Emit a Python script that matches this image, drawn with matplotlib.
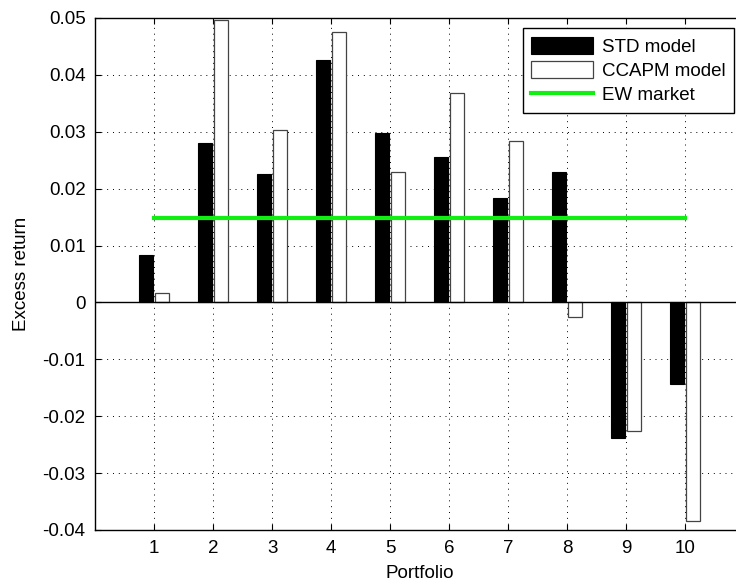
import numpy as np
import matplotlib.pyplot as plt

plt.rcParams["font.family"] = ["Liberation Sans", "DejaVu Sans"]

portfolios = np.arange(1, 11)
std_model = [0.0084, 0.0281, 0.0225, 0.0426, 0.0298, 0.0256, 0.0183, 0.0230, -0.0238, -0.0143]
ccapm_model = [0.0016, 0.0497, 0.0304, 0.0475, 0.0229, 0.0369, 0.0284, -0.0026, -0.0226, -0.0384]
ew_market = 0.0148

W, H = 736, 581
fs = 13.5
fig = plt.figure(figsize=(W / 100, H / 100), dpi=100)
ax = fig.add_axes([95.3 / W, 1 - 530 / H, (744 - 95.3) / W, (530 - 18) / H])

off = 0.135
bw = 0.24
b1 = ax.bar(portfolios - off, std_model, width=bw, color="black", edgecolor="black",
            linewidth=0.8, label="STD model", zorder=3)
b2 = ax.bar(portfolios + off, ccapm_model, width=bw, color="white", edgecolor="#444444",
            linewidth=0.9, label="CCAPM model", zorder=3)
ln, = ax.plot([portfolios[0], portfolios[-1]], [ew_market, ew_market], color="#11ee11",
              linewidth=3, label="EW market", zorder=4)
ax.axhline(0, color="black", linewidth=1, zorder=5)

ax.set_xlim(0, 11)
ax.set_ylim(-0.04, 0.05)
ax.set_xticks(portfolios)
ax.set_yticks(np.arange(-0.04, 0.051, 0.01))
ax.set_yticklabels(["-0.04", "-0.03", "-0.02", "-0.01", "0", "0.01", "0.02", "0.03", "0.04", "0.05"])
ax.tick_params(direction="in", top=True, right=False, length=4, labelsize=fs, pad=7)
ax.grid(True, color="black", linestyle=(0, (1, 5)), linewidth=0.7, zorder=0)
ax.set_axisbelow(True)
for s in ax.spines.values():
    s.set_linewidth(1)

ax.set_xlabel("Portfolio", fontsize=fs, labelpad=6)
ax.set_ylabel("Excess return", fontsize=fs, labelpad=9)

leg = ax.legend([b1, b2, ln], ["STD model", "CCAPM model", "EW market"],
                loc="upper right", bbox_to_anchor=(733.7 / W, 1 - 28.3 / H),
                bbox_transform=fig.transFigure, borderaxespad=0, fontsize=fs,
                fancybox=False, framealpha=1, edgecolor="black",
                handlelength=3.3, handleheight=1.0, labelspacing=0.3,
                borderpad=0.45, handletextpad=0.45)
leg.get_frame().set_linewidth(1)

fig.savefig("out.png", dpi=100)
